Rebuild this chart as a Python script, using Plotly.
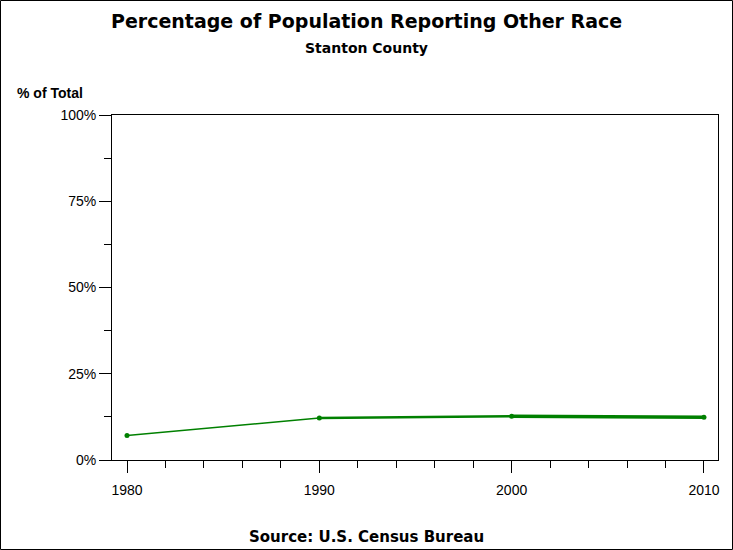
import plotly.graph_objects as go

years = [1980, 1990, 2000, 2010]
pct_other = [7.1, 12.2, 12.7, 12.4]
y_ticks = [0, 25, 50, 75, 100]
y_tick_labels = ["0%", "25%", "50%", "75%", "100%"]
x_ticks = [1980, 1990, 2000, 2010]
seg_widths = [1.5, 2.5, 3.5]

W, H = 733, 550
L, R, T, B = 112, 15, 115, 90
PW, PH = W - L - R, H - T - B

def px(x):
    return (x - L) / PW

def py(y):
    return (H - B - y) / PH

GREEN = "#008000"
FONT = "Liberation Sans"
WIDE = "DejaVu Sans"

fig = go.Figure()
for i in range(len(years) - 1):
    fig.add_trace(go.Scatter(
        x=years[i:i + 2], y=pct_other[i:i + 2], mode="lines",
        line=dict(color=GREEN, width=seg_widths[i]), hoverinfo="skip",
        showlegend=False))
fig.add_trace(go.Scatter(
    x=years, y=pct_other, mode="markers",
    marker=dict(color=GREEN, size=5, symbol="circle"), showlegend=False))

fig.update_layout(
    width=W, height=H, autosize=False,
    margin=dict(l=L, r=R, t=T, b=B, pad=0),
    plot_bgcolor="white", paper_bgcolor="white",
    font=dict(family=FONT, size=13, color="black"),
    xaxis=dict(range=[1979.22, 2010.73], tickvals=x_ticks,
               ticktext=[str(v) for v in x_ticks],
               ticks="outside", ticklen=12, tickwidth=1, tickcolor="black",
               ticklabelstandoff=5,
               showline=True, linecolor="black", linewidth=1, mirror=True,
               showgrid=False, zeroline=False, fixedrange=True,
               tickfont=dict(family=FONT, size=14),
               minor=dict(dtick=2, tick0=1980, ticks="outside", ticklen=7,
                          tickcolor="black", tickwidth=1, showgrid=False)),
    yaxis=dict(range=[0, 100], tickvals=y_ticks, ticktext=y_tick_labels,
               ticks="outside", ticklen=12, tickwidth=1, tickcolor="black",
               showline=True, linecolor="black", linewidth=1, mirror=True,
               showgrid=False, zeroline=False, fixedrange=True,
               tickfont=dict(family=FONT, size=14),
               minor=dict(dtick=12.5, tick0=0, ticks="outside", ticklen=7,
                          tickcolor="black", tickwidth=1, showgrid=False)),
    shapes=[dict(type="rect", xref="paper", yref="paper",
                 x0=px(0.5), x1=px(W - 0.5), y0=py(H - 0.5), y1=py(0.5),
                 line=dict(color="black", width=1), fillcolor="rgba(0,0,0,0)")],
    annotations=[
        dict(text="<b>Percentage of Population Reporting Other Race</b>",
             x=px(W / 2), y=py(21), xref="paper", yref="paper",
             xanchor="center", yanchor="middle", showarrow=False,
             font=dict(family=WIDE, size=19, color="black")),
        dict(text="<b>Stanton County</b>",
             x=px(W / 2), y=py(48), xref="paper", yref="paper",
             xanchor="center", yanchor="middle", showarrow=False,
             font=dict(family=WIDE, size=14, color="black")),
        dict(text="<b>% of Total</b>",
             x=px(15), y=py(93), xref="paper", yref="paper",
             xanchor="left", yanchor="middle", showarrow=False,
             font=dict(family=FONT, size=14, color="black")),
        dict(text="<b>Source: U.S. Census Bureau</b>",
             x=px(W / 2), y=py(537), xref="paper", yref="paper",
             xanchor="center", yanchor="middle", showarrow=False,
             font=dict(family=WIDE, size=15, color="black")),
    ],
)

fig.write_html(
    "out.html",
    config={"displayModeBar": False, "staticPlot": True},
    post_script="document.body.style.margin='0';document.body.style.overflow='hidden';",
)
